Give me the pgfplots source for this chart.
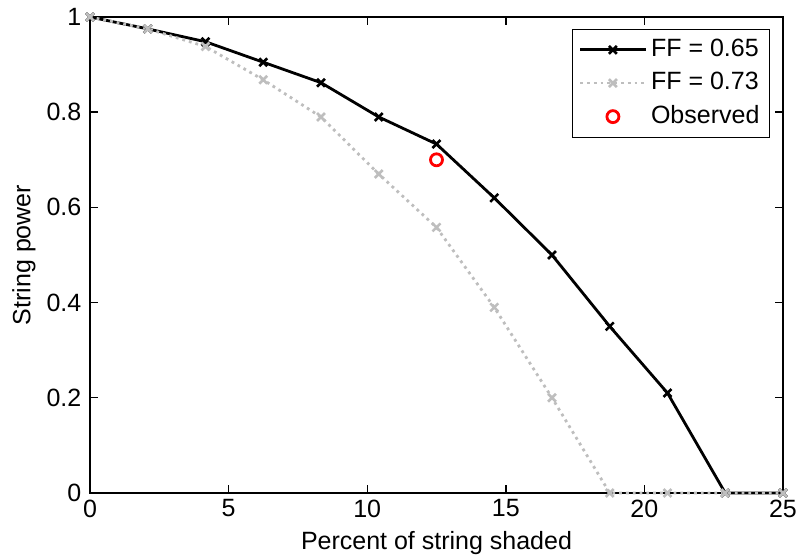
\documentclass[border=0pt]{standalone}
\usepackage{fontspec}
\setmainfont{Liberation Sans}
\usepackage{pgfplots}
\pgfplotsset{compat=1.18}
\definecolor{lgray}{RGB}{190,190,190}
\pgfplotsset{
  linelegend/.style={legend image code/.code={\draw[##1] (0cm,0cm) -- (1.15cm,0cm); \draw[##1, solid] plot coordinates {(0.575cm,0cm)};}},
  marklegend/.style={legend image code/.code={\draw[##1] plot coordinates {(0.575cm,0cm)};}},
}
\begin{document}
\fontsize{12.5}{15}\selectfont
\begin{tikzpicture}
\useasboundingbox (-45pt,-33.5pt) rectangle (354pt,246.5pt);
\begin{axis}[
  scale only axis,
  width=346.5pt, height=238pt,
  xmin=0, xmax=25, ymin=0, ymax=1,
  xtick={0,5,10,15,20,25},
  ytick={0,0.2,0.4,0.6,0.8,1},
  yticklabel style={/pgf/number format/fixed, /pgf/number format/precision=1},
  /pgf/number format/assume math mode=true,
  tick align=inside,
  tick pos=both,
  major tick length=4pt,
  axis line style={line width=0.9pt},
  every tick/.style={black, line width=0.7pt},
  xlabel={Percent of string shaded},
  ylabel={String power},
  xlabel style={at={(axis description cs:0.5,-0.1197)}, anchor=base},
  ylabel style={at={(axis description cs:-0.0952,0.5)}, anchor=center},
  ticklabel style={font=\fontsize{12.5}{15}\selectfont},
  label style={font=\fontsize{12.5}{15}\selectfont},
  xticklabel style={yshift=1pt},
  legend style={at={(0.981,0.975)}, anchor=north east, draw=black,
    font=\fontsize{12.5}{15}\selectfont, inner sep=3pt, row sep=2pt, cells={anchor=west}},
  every legend/.append style={line width=0.8pt},
  legend cell align=left,
  clip=false,
]
\addplot[linelegend, black, line width=1.4pt, mark=x, mark size=2.8pt, mark options={solid, line width=1.3pt}] coordinates {
(0,1.0) (2.0833,0.975) (4.1667,0.948) (6.25,0.905) (8.3333,0.862) (10.4167,0.79) (12.5,0.733)
(14.5833,0.62) (16.6667,0.50) (18.75,0.35) (20.8333,0.21) (22.9167,0.0) (25,0.0)};
\addlegendentry{FF = 0.65}
\addplot[linelegend, lgray, line width=1.4pt, dotted, mark=x, mark size=2.8pt, mark options={solid, line width=1.3pt}] coordinates {
(0,1.0) (2.0833,0.975) (4.1667,0.938) (6.25,0.868) (8.3333,0.79) (10.4167,0.67) (12.5,0.558)
(14.5833,0.39) (16.6667,0.20) (18.75,0.0) (20.8333,0.0) (22.9167,0.0) (25,0.0)};
\addlegendentry{FF = 0.73}
\addplot[marklegend, red, only marks, mark=o, mark size=3pt, mark options={line width=1.4pt}] coordinates {(12.5,0.70)};
\addlegendentry{Observed}
\end{axis}
\end{tikzpicture}
\end{document}
